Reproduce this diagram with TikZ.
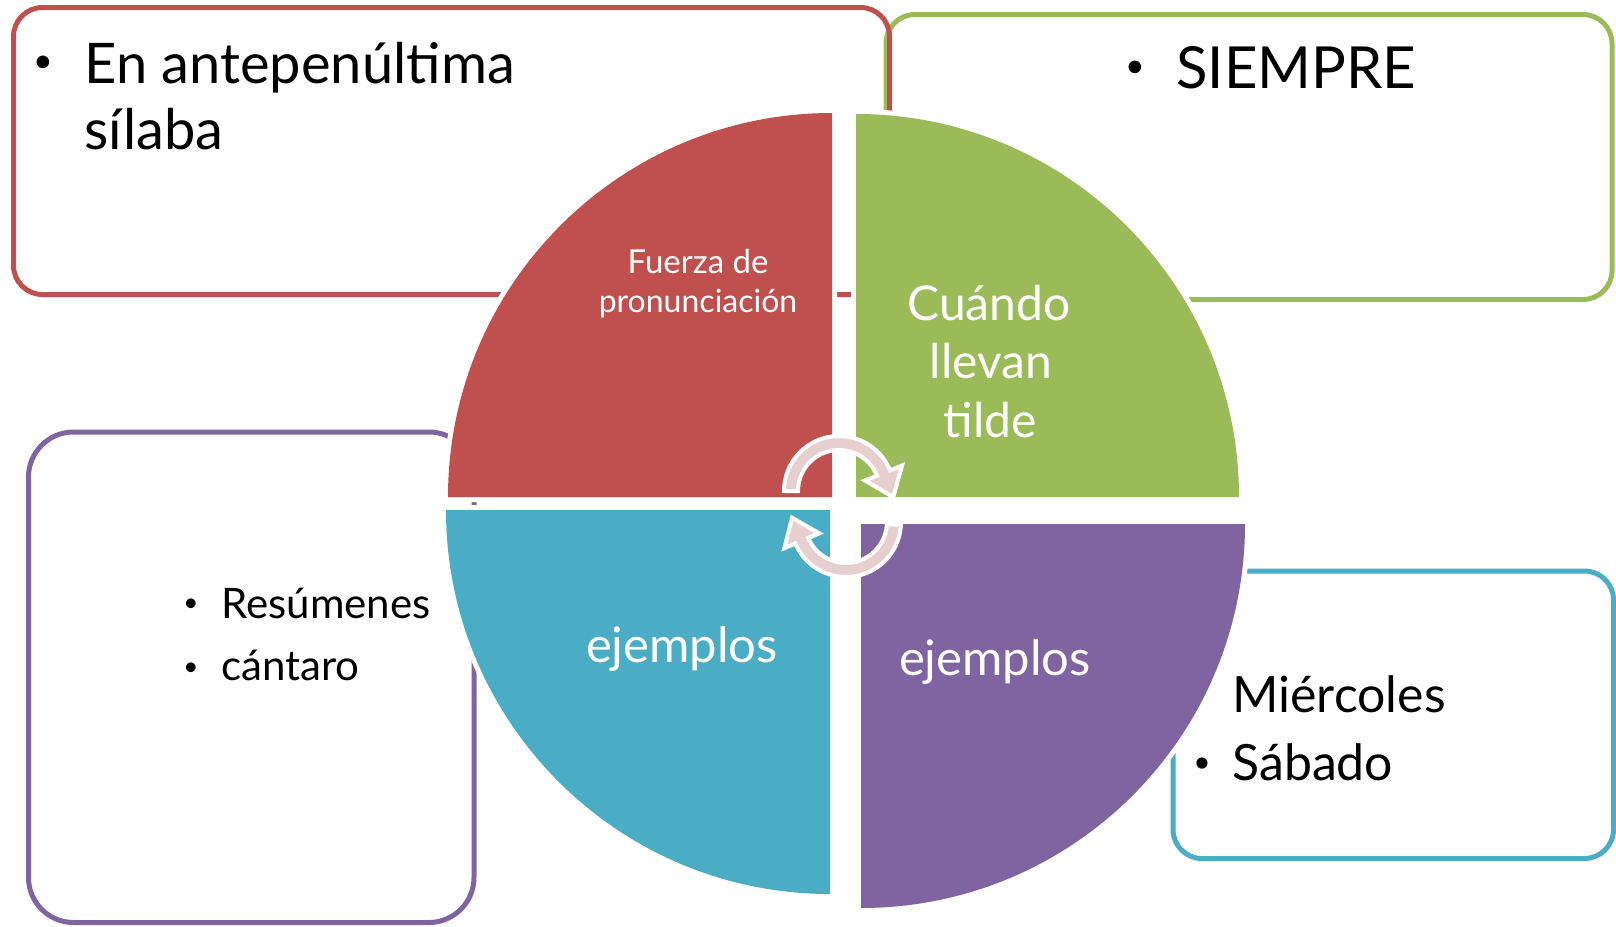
\documentclass[tikz,border=0pt]{standalone}
\usepackage{fontspec}
\setmainfont{Lato}
\usetikzlibrary{calc}
\definecolor{cred}{HTML}{C0504D}
\definecolor{cgreen}{HTML}{9BBB59}
\definecolor{cteal}{HTML}{4BACC6}
\definecolor{cpurple}{HTML}{8064A2}
\definecolor{cpink}{RGB}{231,207,208}
\newcommand{\cycarrow}[8]{% center, theta1, theta2, Rout, Rin, headout, headin, tip
  \filldraw[fill=cpink, draw=white, line width=2pt, line join=miter]
    ($(#1)+(#2:#4)$) arc[start angle=#2, end angle=#3, radius=#4]
    -- ($(#1)+(#3:#6)$) -- #8 -- ($(#1)+(#3:#7)$) -- ($(#1)+(#3:#5)$)
    arc[start angle=#3, end angle=#2, radius=#5] -- cycle;}
\begin{document}
\begin{tikzpicture}[x=0.5pt,y=-0.5pt,
  box/.style={line width=2.5pt, rounded corners=#1},
  quad/.style={fill=#1, preaction={draw=white, line width=5pt, fill=white}},
  btxt/.style={anchor=base west, inner sep=0pt, text=black},
  bul/.style={anchor=base, inner sep=0pt, text=black},
  qtxt/.style={anchor=base, inner sep=0pt, text=white}]
\useasboundingbox (0,0) rectangle (1616,926);
% outer boxes
\draw[box=14.5pt, draw=cgreen] (886,14.5) rectangle (1612,299.5);
\draw[box=14.5pt, draw=cred] (13.5,7.5) rectangle (889.5,294.5);
\draw[box=22.5pt, draw=cpurple] (28.5,432) rectangle (474,922.5);
\draw[box=14.5pt, draw=cteal] (1173,571) rectangle (1613.5,858.5);
% quadrants
\path[quad=cred] (832,497) -- (448,497) arc[start angle=180, end angle=270, radius=384] -- cycle;
\path[quad=cgreen] (856,497) -- (856,114) arc[start angle=270, end angle=360, radius=383] -- cycle;
\path[quad=cteal] (830,510) -- (830,894) arc[start angle=90, end angle=180, radius=384] -- cycle;
\path[quad=cpurple] (861,524) -- (1245,524) arc[start angle=0, end angle=90, radius=384] -- cycle;
% cycle arrows
\coordinate (ca) at (839,491);
\coordinate (cb) at (846,522);
\coordinate (tipa) at ($(ca)+(338:48)+(68:26)$);
\coordinate (tipb) at ($(cb)+(157:48)+(247:25)$);
\cycarrow{ca}{180}{338}{55}{41}{68}{28}{(tipa)}
\cycarrow{cb}{3}{157}{55}{41}{67}{29}{(tipb)}
% box texts
\node[bul, font=\fontsize{17}{20}\selectfont] (ra) at (43,72) {•};
\node[btxt, font=\fontsize{28}{30}\selectfont] (r1) at (84,83) {En antepenúltima};
\node[btxt, font=\fontsize{28}{30}\selectfont] (r2) at (84,149) {sílaba};
\node[bul, font=\fontsize{17}{20}\selectfont] (ga) at (1135,77) {•};
\node[btxt, font=\fontsize{29}{30}\selectfont] (g1) at (1176,88) {SIEMPRE};
\node[bul, font=\fontsize{13}{16}\selectfont] (pa) at (191,611) {•};
\node[btxt, font=\fontsize{21}{24}\selectfont] (p1) at (221,618) {Resúmenes};
\node[bul, font=\fontsize{13}{16}\selectfont] (pb) at (191,675) {•};
\node[btxt, font=\fontsize{21}{24}\selectfont] (p2) at (221,680) {cántaro};
\node[btxt, font=\fontsize{25}{28}\selectfont] (t1) at (1232,712) {Miércoles};
\node[bul, font=\fontsize{15}{18}\selectfont] (ta) at (1202,772) {•};
\node[btxt, font=\fontsize{25}{28}\selectfont] (t2) at (1232,780) {Sábado};
% quadrant texts
\node[qtxt, font=\fontsize{16.5}{18}\selectfont] (q1a) at (698,273) {Fuerza de};
\node[qtxt, font=\fontsize{16}{18}\selectfont] (q1b) at (698,312) {pronunciación};
\node[qtxt, font=\fontsize{24}{28}\selectfont] (q2a) at (989,320) {Cuándo};
\node[qtxt, font=\fontsize{24}{28}\selectfont] (q2b) at (991,378) {llevan};
\node[qtxt, font=\fontsize{24}{28}\selectfont] (q2c) at (990,437) {tilde};
\node[qtxt, font=\fontsize{24.5}{28}\selectfont] (q3) at (682,662) {ejemplos};
\node[qtxt, font=\fontsize{24.5}{28}\selectfont] (q4) at (995,675) {ejemplos};
\end{tikzpicture}
\end{document}
